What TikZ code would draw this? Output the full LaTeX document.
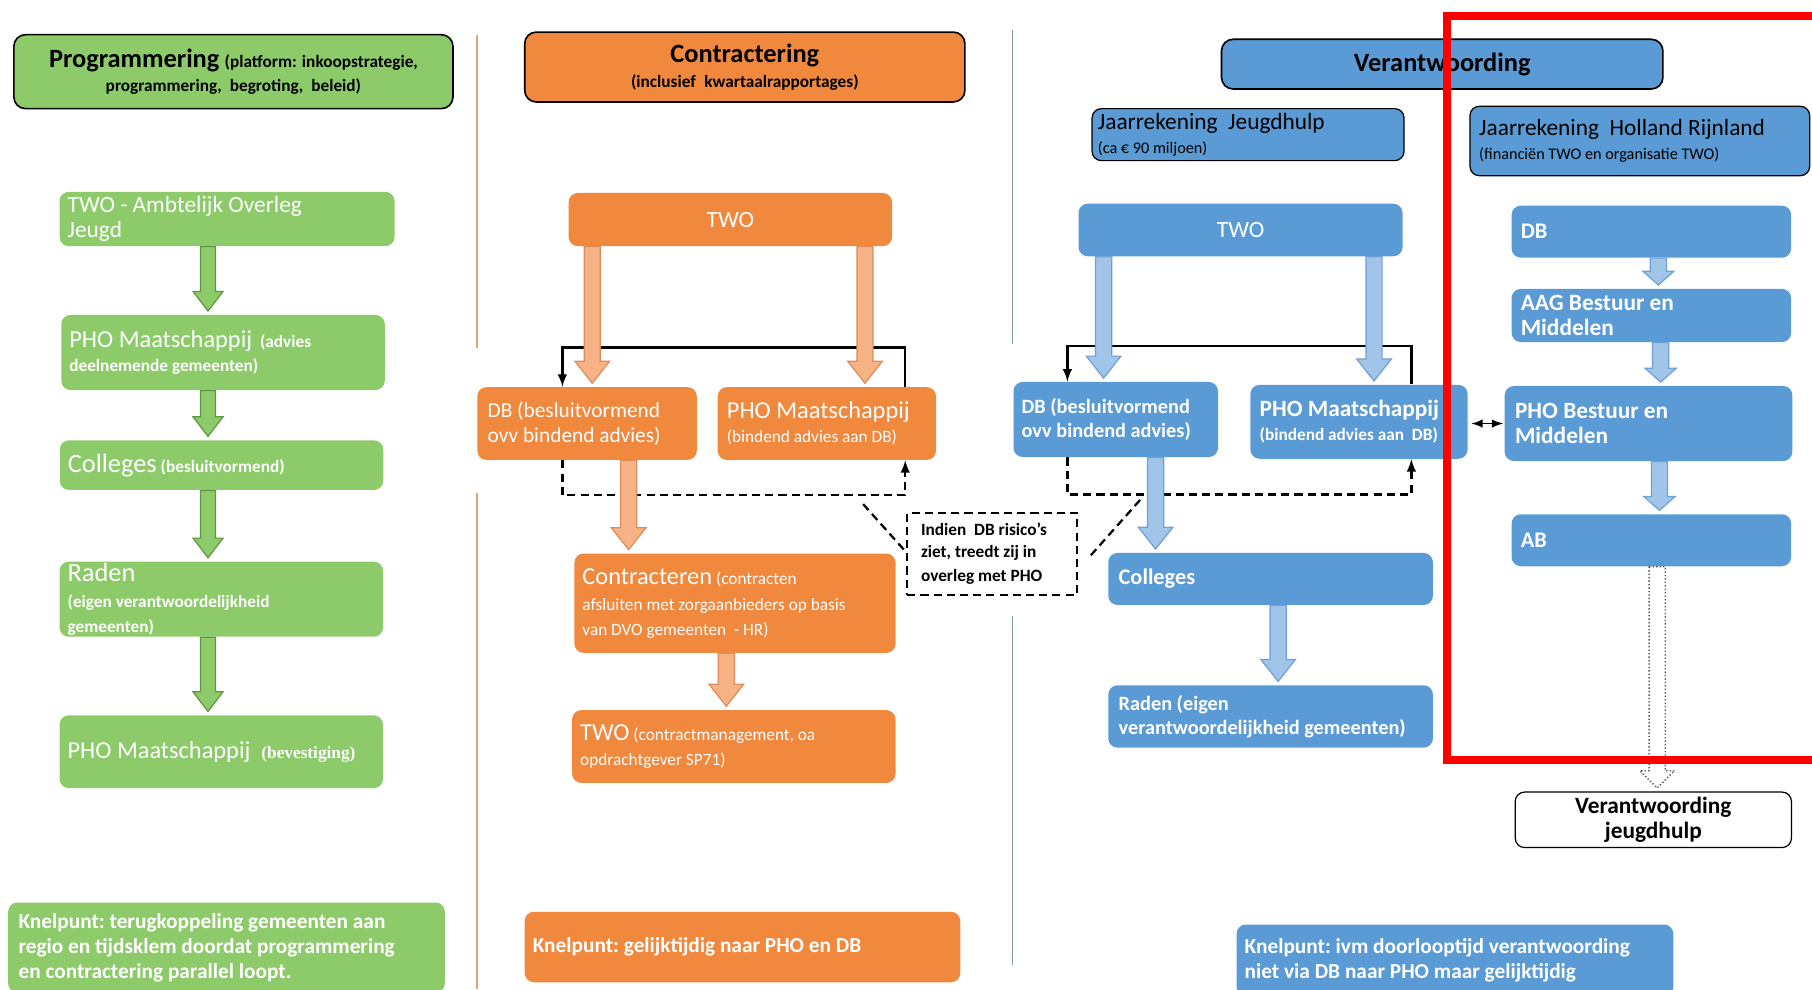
\documentclass[tikz,border=0pt]{standalone}
\usepackage{fontspec}
\setmainfont{Carlito}
\newfontfamily\timesb{Liberation Serif}
\usetikzlibrary{calc}
\frenchspacing

\definecolor{grn}{RGB}{141,203,106}
\definecolor{grnline}{RGB}{96,150,66}
\definecolor{org}{RGB}{240,136,62}
\definecolor{orgarrow}{RGB}{246,178,132}
\definecolor{orgline}{RGB}{222,140,92}
\definecolor{blu}{RGB}{91,155,213}
\definecolor{bluarrow}{RGB}{160,197,233}
\definecolor{bluline}{RGB}{112,160,212}
\definecolor{odivc}{RGB}{230,165,120}
\definecolor{bdivc}{RGB}{125,150,170}

% font size, and the font's own word spaces
\newcommand{\setfs}[2]{\fontsize{#1}{#2}\selectfont\spaceskip=0pt\xspaceskip=0pt\relax}
% block arrow pointing down: style, x, from anchor, to anchor
\def\shaft{7}\def\headw{15}\def\headl{18}
\newcommand{\blockarrow}[4]{%
  \coordinate (bx) at (#2,0);
  \path (#3 -| bx) coordinate (bs) (#4 -| bx) coordinate (be0);
  \coordinate (be) at ($(be0)+(0,3)$);
  \draw[#1] ($(bs)+(-\shaft,0)$) -- ($(be)+(-\shaft,\headl)$) -- ($(be)+(-\headw,\headl)$) -- (be)
    -- ($(be)+(\headw,\headl)$) -- ($(be)+(\shaft,\headl)$) -- ($(bs)+(\shaft,0)$) -- cycle;
}

\begin{document}
\begin{tikzpicture}[x=0.02cm,y=0.02cm,
  box/.style={rounded corners=0.16cm, align=left, inner xsep=0.14cm, inner ysep=0pt},
  gbox/.style={box, fill=grn, text=white},
  obox/.style={box, fill=org, text=white},
  bbox/.style={box, fill=blu, text=white, font=\bfseries},
  hdr/.style={draw=black, line width=0.8pt, rounded corners=0.2cm, align=center, inner xsep=0.14cm, inner ysep=0pt, font=\bfseries},
  conn/.style={line width=1.1pt, -latex},
  dconn/.style={line width=1.1pt, dash pattern=on 4pt off 2.5pt},
  garrow/.style={fill=grn, draw=grnline, line width=0.6pt},
  oarrow/.style={fill=orgarrow, draw=orgline, line width=0.6pt},
  barrow/.style={fill=bluarrow, draw=bluline, line width=0.6pt},
  harrow/.style={fill=white, draw=gray!70!black, densely dotted, line width=0.7pt}]
\useasboundingbox (0,0) rectangle (1568,-856);

% column dividers
\draw[odivc, line width=0.8pt] (413,-30) -- (413,-301);
\draw[odivc, line width=0.8pt] (413,-427) -- (413,-856);
\draw[bdivc, line width=0.8pt] (876,-26) -- (876,-298);
\draw[bdivc, line width=0.8pt] (876,-533) -- (876,-835);

% programmering
\node[hdr, fill=grn, text width=7.32cm, minimum height=1.28cm] (prog) at (202,-62)
  {\setfs{8.5}{11.5}{\setfs{13}{15}Programmering} (platform: inkoopstrategie,\\programmering, begroting, beleid)};
\node[gbox, text width=5.52cm, minimum height=0.94cm] (ambt) at (196.5,-189.5)
  {\setfs{11.5}{14}TWO - Ambtelijk Overleg\\Jeugd};
\node[gbox, text width=5.32cm, minimum height=1.3cm] (phoA) at (193,-305)
  {\setfs{8.5}{12}\bfseries{\mdseries\setfs{12}{12}PHO Maatschappij}~~(advies\\deelnemende gemeenten)};
\node[gbox, text width=5.32cm, minimum height=0.86cm] (collA) at (191.7,-402.5)
  {\setfs{8.5}{10}\bfseries{\mdseries\setfs{13}{14}Colleges} (besluitvormend)};
\node[gbox, text width=5.32cm, minimum height=1.3cm] (radenA) at (191.5,-518.5)
  {\setfs{8.5}{10.5}\bfseries{\mdseries\setfs{13}{14}Raden}\\[2.5pt](eigen verantwoordelijkheid\\gemeenten)};
\node[gbox, text width=5.32cm, minimum height=1.26cm] (bevA) at (191.5,-650.5)
  {\setfs{12}{14}PHO Maatschappij~~{\timesb\bfseries\setfs{8.5}{10}(bevestiging)}};
\node[gbox, font=\bfseries, inner xsep=0.18cm, text width=7.2cm, minimum height=1.56cm] (knelA) at (196,-820)
  {\setfs{10.5}{12.6}Knelpunt: terugkoppeling gemeenten aan\\regio en tijdsklem doordat programmering\\en contractering parallel loopt.};

% contractering
\node[hdr, fill=org, text width=7.34cm, minimum height=1.21cm] (contrH) at (644.5,-58)
  {\setfs{8.5}{10}{\setfs{13}{15}Contractering}\\(inclusief kwartaalrapportages)};
\node[obox, align=center, text width=5.32cm, minimum height=0.92cm] (two2) at (632,-190)
  {\setfs{11.5}{14}TWO};
\node[obox, inner xsep=0.18cm, text width=3.44cm, minimum height=1.26cm] (db2) at (508,-366.5)
  {\setfs{10.5}{12.5}DB (besluitvormend\\ovv bindend advies)};
\node[obox, inner xsep=0.16cm, text width=3.46cm, minimum height=1.26cm] (pho2) at (715.5,-366.5)
  {\setfs{8.5}{12.5}{\setfs{12}{14}PHO Maatschappij}\\(bindend advies aan DB)};
\node[obox, text width=5.28cm, minimum height=1.72cm] (contrC) at (636,-522)
  {\setfs{8.5}{10}{\setfs{12}{14}Contracteren} (contracten\\[3pt]afsluiten met zorgaanbieders op basis\\van DVO gemeenten~ - HR)};
\node[obox, text width=5.32cm, minimum height=1.26cm] (twoC) at (635,-646)
  {\setfs{8.5}{11.4}{\setfs{12}{14}TWO} (contractmanagement, oa\\opdrachtgever SP71)};
\node[obox, font=\bfseries, text width=7.26cm, minimum height=1.22cm] (knelO) at (642.5,-819.5)
  {\setfs{10.5}{12.6}Knelpunt: gelijktijdig naar PHO en DB};
\node[dconn, draw=black, align=left, font=\bfseries, inner xsep=0.24cm, inner ysep=0pt, text width=2.46cm, minimum height=1.42cm] (note) at (858.5,-479.5)
  {\setfs{8.5}{10.7}Indien~ DB risico’s\\ziet, treedt zij in\\overleg met PHO};

% verantwoording
\node[hdr, fill=blu, text width=7.36cm, minimum height=0.86cm] (verH) at (1248,-55.5)
  {\setfs{13}{15}Verantwoording};
\node[box, fill=blu, draw=black, line width=0.6pt, inner xsep=0.1cm, text width=5.2cm, minimum height=0.9cm] (jjh) at (1080,-116.5)
  {\setfs{8}{12.5}{\setfs{11.5}{13}Jaarrekening~ Jeugdhulp}\\(ca € 90 miljoen)};
\node[box, fill=blu, draw=black, line width=0.6pt, inner xsep=0.16cm, text width=5.56cm, minimum height=1.2cm] (jhr) at (1419,-122)
  {\setfs{8}{13}{\setfs{11.5}{13}Jaarrekening~ Holland Rijnland}\\(financiën TWO en organisatie TWO)};
\node[box, fill=blu, text=white, align=center, text width=5.33cm, minimum height=0.91cm] (twoB) at (1073.5,-199)
  {\setfs{11.5}{14}TWO};
\node[bbox, text width=3.26cm, minimum height=1.3cm] (dbB) at (965.5,-363)
  {\setfs{10}{12.2}DB (besluitvormend\\ovv bindend advies)};
\node[bbox, inner xsep=0.16cm, text width=3.44cm, minimum height=1.28cm] (phoB) at (1176,-365)
  {\setfs{8.5}{12.5}{\setfs{11.5}{14}PHO Maatschappij}\\(bindend advies aan~ DB)};
\node[bbox, inner xsep=0.18cm, text width=5.26cm, minimum height=0.9cm] (collB) at (1099.5,-501)
  {\setfs{11}{13}Colleges};
\node[bbox, inner xsep=0.18cm, text width=5.26cm, minimum height=1.08cm] (radenB) at (1099.5,-620)
  {\setfs{10}{11.4}Raden (eigen\\verantwoordelijkheid gemeenten)};
\node[bbox, text width=7.28cm, minimum height=1.24cm] (knelB) at (1259,-831)
  {\setfs{10.5}{13}Knelpunt: ivm doorlooptijd verantwoording\\niet via DB naar PHO maar gelijktijdig};
\node[bbox, inner xsep=0.16cm, text width=4.52cm, minimum height=0.9cm] (dbC) at (1429,-200.5)
  {\setfs{11}{13}DB};
\node[bbox, inner xsep=0.16cm, text width=4.52cm, minimum height=0.92cm] (aag) at (1429,-273)
  {\setfs{11.5}{13}AAG Bestuur en\\Middelen};
\node[bbox, inner xsep=0.18cm, text width=4.62cm, minimum height=1.3cm] (phoC) at (1426.5,-366.5)
  {\setfs{11.5}{13.4}PHO Bestuur en\\Middelen};
\node[bbox, inner xsep=0.16cm, text width=4.52cm, minimum height=0.9cm] (ab) at (1429,-467.5)
  {\setfs{11}{13}AB};
\node[box, draw=black, line width=0.6pt, fill=white, align=center, font=\bfseries, text width=4.5cm, minimum height=0.96cm] (vj) at (1430.7,-709.4)
  {\setfs{11.5}{13.2}Verantwoording\\jeugdhulp};

% advies lines
\draw[conn] ($(pho2.north east)+(-27,0)$) -- ++(0,34) -| ($(db2.north west)+(74,0)$);
\draw[dconn, -latex] ($(db2.south west)+(74,0)$) -- ++(0,-30) -| ($(pho2.south east)+(-27,0)$);
\draw[conn] ($(phoB.north east)+(-49,0)$) -- ++(0,33) -| ($(dbB.north west)+(47,0)$);
\draw[dconn, -latex] ($(dbB.south west)+(47,0)$) -- ++(0,-32) -| ($(phoB.south east)+(-49,0)$);
\coordinate (noteL) at (744,-433);
\coordinate (noteR) at (988,-431);
\draw[dconn] ($(note.west)+(-2,4)$) -- (noteL);
\draw[dconn] ($(note.east)+(11,-1)$) -- (noteR);
\draw[line width=0.9pt, latex-latex] ($(phoB.east |- phoC.west)+(3,0)$) -- ($(phoC.west)+(-1,0)$);

% block arrows
\def\shaft{6.5}\def\headw{13}\def\headl{17}
\blockarrow{garrow}{180}{ambt.south}{phoA.north}
\blockarrow{garrow}{180}{phoA.south}{collA.north}
\blockarrow{garrow}{180}{collA.south}{radenA.north}
\blockarrow{garrow}{180}{radenA.south}{bevA.north}
\def\shaft{7}\def\headw{15}\def\headl{19}
\blockarrow{oarrow}{512.5}{two2.south}{db2.north}
\blockarrow{oarrow}{748.5}{two2.south}{pho2.north}
\blockarrow{oarrow}{544}{db2.south}{contrC.north}
\blockarrow{oarrow}{628.5}{contrC.south}{twoC.north}
\blockarrow{barrow}{955}{twoB.south}{dbB.north}
\blockarrow{barrow}{1189}{twoB.south}{phoB.north}
\blockarrow{barrow}{1000}{dbB.south}{collB.north}
\blockarrow{barrow}{1106}{collB.south}{radenB.north}
\def\shaft{7}\def\headw{13.5}\def\headl{12}
\blockarrow{barrow}{1435}{dbC.south}{aag.north}
\blockarrow{barrow}{1437}{aag.south}{phoC.north}
\blockarrow{barrow}{1436}{phoC.south}{ab.north}
\def\shaft{7}\def\headw{15}\def\headl{15}
\blockarrow{harrow}{1434}{ab.south}{vj.north}

% highlight
\draw[red, line width=0.14cm] (1252,-14) rectangle (1610,-658);
\end{tikzpicture}
\end{document}
